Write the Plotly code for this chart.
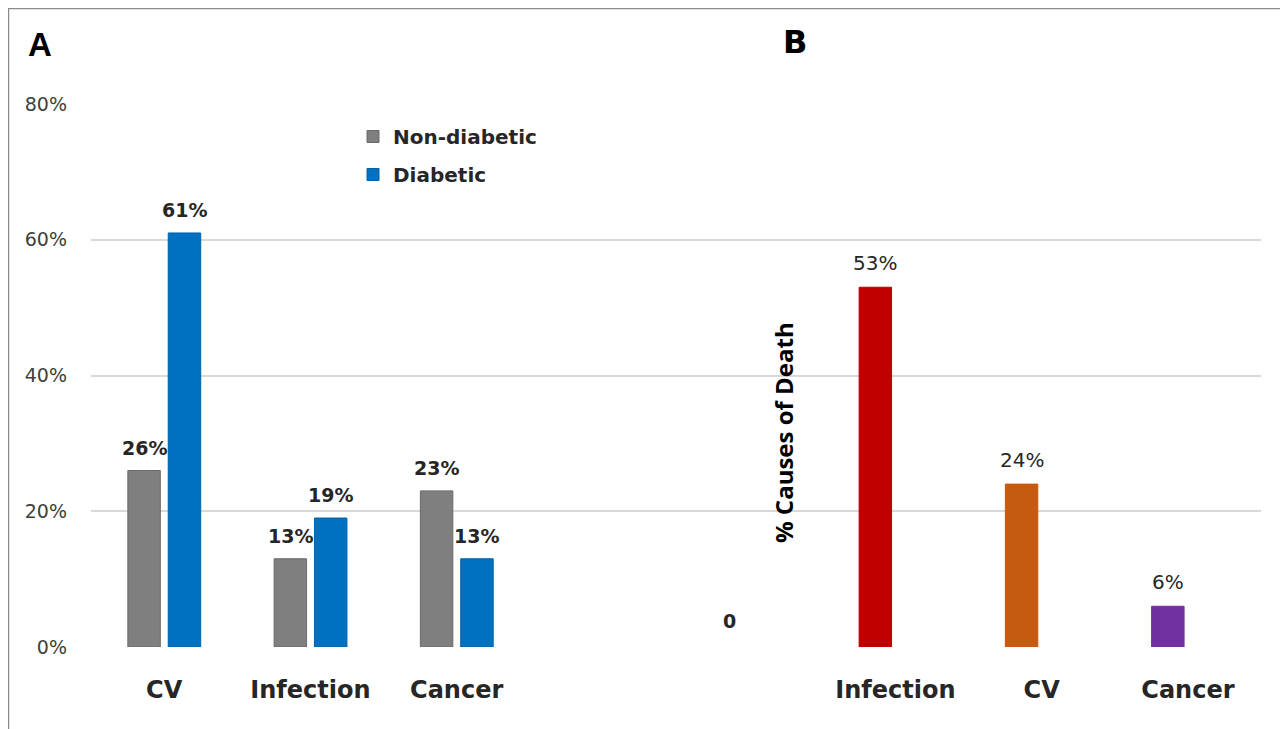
import plotly.graph_objects as go

# page offset of the plot div (default body margin)
OX, OY = 8, 8
W, H = 1280, 721
ML, MR, MT, MB = 83, 27, 96, 82
PW, PH = W - ML - MR, H - MT - MB

# ---- data ----
cats_a = ["CV", "Infection", "Cancer"]
non_diabetic = [26, 13, 23]
diabetic = [61, 19, 13]

cats_b = ["", "Infection", "CV", "Cancer"]
causes_b = [0, 53, 24, 6]
labels_b = ["0", "53%", "24%", "6%"]
colors_b = ["#ffffff", "#c00000", "#c55a11", "#7030a0"]

y_ticks = [0, 20, 40, 60, 80]

pos_a = [0, 1, 2]
pos_b = [4, 5, 6, 7]

BW = 0.222
OFF1 = -0.248
OFF2 = 0.028
WIDE = "DejaVu Sans"
NARROW = "Open Sans"


def px_x(p):
    """page pixel x -> paper coordinate"""
    return (p - OX - ML) / PW


def px_y(p):
    """page pixel y -> paper coordinate"""
    return (H - MB - (p - OY)) / PH


fig = go.Figure()
fig.add_trace(go.Bar(
    x=pos_a, y=non_diabetic, name="Non-diabetic", width=BW, offset=OFF1,
    marker=dict(color="#7f7f7f", line=dict(color="#6a6a6a", width=1)),
    legendgroup="a", hoverinfo="skip"))
fig.add_trace(go.Bar(
    x=pos_a, y=diabetic, name="Diabetic", width=BW, offset=OFF2,
    marker=dict(color="#0070c0", line=dict(color="#0062aa", width=1)),
    legendgroup="b", hoverinfo="skip"))
fig.add_trace(go.Bar(
    x=pos_b, y=causes_b, name="Causes", width=BW, offset=OFF1,
    marker=dict(color=colors_b, line=dict(color=colors_b, width=1)),
    showlegend=False, hoverinfo="skip"))

ann = []
for xs, ys, off in ((pos_a, non_diabetic, OFF1), (pos_a, diabetic, OFF2)):
    for x, y in zip(xs, ys):
        ann.append(dict(x=x + off + BW / 2, y=y, xref="x", yref="y", text=f"{y}%",
                        showarrow=False, xanchor="center", yanchor="bottom", yshift=10,
                        font=dict(family=WIDE, size=19, color="#262626", weight="bold")))
for x, y, t in zip(pos_b, causes_b, labels_b):
    ann.append(dict(x=x + OFF1 + BW / 2, y=y, xref="x", yref="y", text=t,
                    showarrow=False, xanchor="center", yanchor="bottom", yshift=10 if y else 13,
                    font=dict(family=WIDE, size=20 if y else 19, color="#262626",
                              weight="normal" if y else "bold")))

ann.append(dict(x=px_x(40), y=px_y(45), xref="paper", yref="paper", text="A",
                xanchor="center", yanchor="middle", showarrow=False,
                font=dict(family="Liberation Sans", size=33, color="#000000", weight="bold")))
ann.append(dict(x=px_x(795), y=px_y(42), xref="paper", yref="paper", text="B",
                xanchor="center", yanchor="middle", showarrow=False,
                font=dict(family=WIDE, size=32, color="#000000", weight="bold")))
ann.append(dict(x=px_x(783), y=px_y(433), xref="paper", yref="paper", text="% Causes of Death",
                textangle=-90, xanchor="center", yanchor="middle", showarrow=False,
                font=dict(family=NARROW, size=24, color="#000000", weight="bold")))

shapes = [
    dict(type="line", xref="paper", yref="paper", x0=px_x(8), x1=px_x(OX + W), y0=px_y(8.5), y1=px_y(8.5),
         line=dict(color="#8c8c8c", width=1.5)),
    dict(type="line", xref="paper", yref="paper", x0=px_x(8.5), x1=px_x(8.5), y0=px_y(8), y1=px_y(OY + H),
         line=dict(color="#8c8c8c", width=1.5)),
]

fig.update_layout(
    width=W, height=H,
    margin=dict(l=ML, r=MR, t=MT, b=MB, pad=0),
    paper_bgcolor="#ffffff", plot_bgcolor="#ffffff",
    barmode="overlay",
    annotations=ann, shapes=shapes,
    legend=dict(x=px_x(353), y=px_y(117), xanchor="left", yanchor="top",
                bgcolor="rgba(0,0,0,0)", tracegroupgap=9, itemwidth=30,
                font=dict(family=WIDE, size=20, color="#262626", weight="bold")),
    xaxis=dict(range=[-0.5, 7.5], tickvals=pos_a + pos_b[1:], ticktext=cats_a + cats_b[1:],
               showgrid=False, zeroline=False, showline=False, ticks="",
               ticklabelstandoff=26,
               tickfont=dict(family=WIDE, size=24, color="#262626", weight="bold")),
    yaxis=dict(range=[0, 80], tickvals=y_ticks, ticktext=[f"{v}%" for v in y_ticks],
               showgrid=True, gridcolor="#d9d9d9", gridwidth=2, zeroline=False,
               showline=False, ticks="", ticklabelstandoff=23,
               tickfont=dict(family=WIDE, size=19, color="#404040")),
    showlegend=True,
)

fig.write_html("out.html")
